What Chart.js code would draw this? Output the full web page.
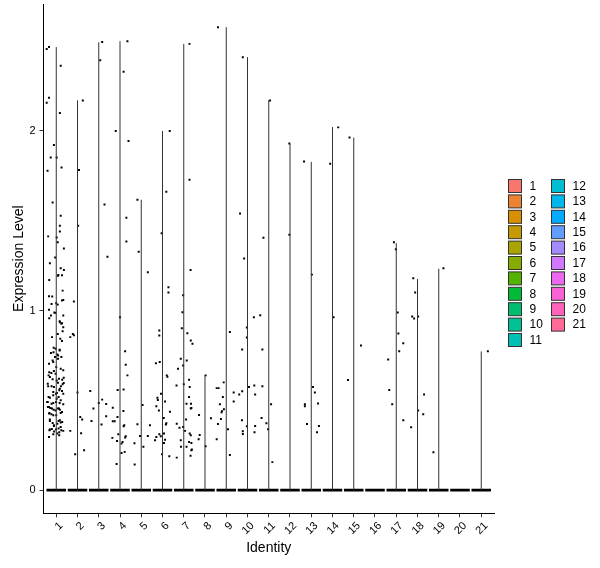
<!DOCTYPE html>
<html>
<head>
<meta charset="utf-8">
<script src="https://cdn.jsdelivr.net/npm/chart.js@4"></script>
<style>
  body { margin: 0; background: #fff; }
  #box { width: 600px; height: 568px; }
</style>
</head>
<body>
<div id="box"><canvas id="vln" width="600" height="568"></canvas></div>
<script>
// clusters on the x axis
const clusters = ['1','2','3','4','5','6','7','8','9','10','11','12','13','14','15','16','17','18','19','20','21'];
const yTicks = [0, 1, 2];
// top of each (very thin) violin, 0 = no violin above zero
const violinTop = [2.467, 2.17, 2.494, 2.5, 1.617, 2.0, 2.485, 0.639, 2.578, 2.411, 2.172, 1.928, 1.828, 2.022, 1.963, 0, 1.376, 1.176, 1.233, 0, 0.772];

// jittered cells above zero: [offset from cluster centre, expression]
const pts1 = [[-0.45,2.457],[-0.34,2.468],[0.21,2.363],[-0.34,2.185],[-0.45,2.157],[0.17,2.10],[-0.11,1.922],[-0.26,1.852],[0.02,1.852],[0.25,1.796],[-0.41,1.778],[-0.17,1.602],[0.21,1.528],[0.17,1.472],[-0.38,1.413],[0.17,1.44],[0.02,1.407],[0.07,1.38],[0.36,1.346],[-0.05,1.296],[-0.3,1.263],[0.21,1.235],[0.36,1.226],[0.1,1.198],[0.27,1.196],[-0.33,1.17],[0.3,1.111],[-0.19,1.078],
  [-0.34,1.08],[-0.22,1.037],[0.07,1.033],[0.27,1.056],[0.33,1.059],[-0.34,1.004],[-0.09,0.989],[-0.05,0.987],[0.33,0.972],[-0.33,0.957],[0.17,0.935],[0.24,0.926],[0.33,0.907],[0.3,0.885],[0.07,0.87],[0.19,0.843],[-0.25,0.763],[-0.03,0.787],[0.16,0.778],[-0.06,0.741],[0.09,0.75],[-0.34,0.704],[-0.14,0.713],[0.21,0.676],[0.33,0.667],[-0.36,0.639],[-0.3,0.63],[-0.11,0.663],[0.02,0.611],[0.28,0.615],[-0.4,0.593],[-0.22,0.578],[0.22,0.578],[0.3,0.589],[-0.14,0.546],[-0.01,0.537],[0.14,0.556],[0.33,0.537],[-0.3,0.515],[-0.4,0.491],[-0.34,0.463],[-0.14,0.485],[0.02,0.509],[0.21,0.5],[0.33,0.478],[-0.2,0.454],[-0.03,0.444],[0.13,0.454],[0.27,0.435],[-0.34,0.426],[-0.14,0.417],[0.17,0.389],[0.28,0.379],[-0.3,0.393],[-0.11,0.361],[0.05,0.37],[0.21,0.352],[-0.3,0.337],[-0.01,0.337],[0.14,0.322],[0.33,0.33],[-0.34,0.296],[-0.14,0.311],[0.14,0.306],
  [0.08,1.194],[0.0,1.041],[-0.25,0.972],[0.16,0.941],[0.27,0.93],[-0.2,0.852],[0.27,0.83],[-0.12,0.793],[0.16,0.782],[-0.13,0.768],[0.05,0.756],[-0.17,0.722],[0.08,0.731],[0.24,0.741],[0.0,0.685],[-0.33,0.657],[-0.23,0.652],[-0.03,0.648],[-0.17,0.618],[0.13,0.62],[0.35,0.626],[0.08,0.598],[0.35,0.596],[-0.38,0.578],[-0.11,0.574],[0.17,0.565],[0.03,0.541],[0.27,0.552],[-0.36,0.518],[-0.14,0.528],[0.11,0.518],[-0.43,0.491],[-0.22,0.481],[-0.01,0.491],[0.16,0.485],[-0.39,0.463],[-0.28,0.457],[-0.12,0.448],[0.08,0.454],[0.17,0.448],[-0.32,0.43],[-0.23,0.422],[0.0,0.417],[0.21,0.43],[-0.3,0.385],[-0.17,0.374],[0.11,0.385],[0.21,0.376],[-0.11,0.357],[-0.32,0.333],[-0.21,0.341],[-0.1,0.326],[0.11,0.343],[0.24,0.333],[-0.34,0.296],[0.05,0.315]];
const pts2 = [[0.25,2.17],[0.07,1.783],[0.03,1.472],[-0.17,1.05],[-0.34,0.852],[-0.22,0.87],[-0.17,0.863],[0,0.544],[0.13,0.407],[0.22,0.393],[0.17,0.317],[0.31,0.222],[-0.11,0.2],[-0.34,0.33]];
const pts3 = [[0.16,2.496],[0.07,2.394],[0.27,1.591],[0.41,1.3],[-0.4,0.552],[-0.34,0.385],[-0.25,0.454],[0,0.485],[0.16,0.504],[0.35,0.48],[0.35,0.411],[0.13,0.365]];
const pts4 = [[0.35,2.5],[0.17,2.33],[-0.2,2.0],[0.4,1.944],[0.3,1.517],[0.3,1.385],[0,0.963],[0.24,0.774],[0.27,0.698],[0.35,0.639],[0.17,0.561],[-0.11,0.557],[0.16,0.441],[0.2,0.361],[0.17,0.356],[-0.08,0.311],[-0.36,0.291],[-0.14,0.274],[0.07,0.259],[0.12,0.268],[0.27,0.3],[0.24,0.293],[0.07,0.207],[0.22,0.213],[-0.16,0.146],[-0.34,0.459],[-0.12,0.407],[-0.34,0.383],[-0.25,0.383]];
const pts5 = [[-0.18,1.617],[-0.12,1.328],[0.31,1.213],[-0.31,0.143],[-0.32,0.261],[-0.18,0.367],[0.06,0.474],[-0.06,0.302],[0.1,0.241],[0.31,0.302],[0.41,0.361]];
const pts6 = [[0.34,2.0],[0.18,1.661],[-0.04,1.43],[0.28,1.13],[0.28,1.1],[-0.31,0.707],[-0.13,0.713],[-0.15,0.889],[-0.15,0.861],[-0.24,0.515],[-0.22,0.502],[-0.29,0.467],[-0.17,0.444],[-0.07,0.537],[0.12,0.494],[0.2,0.639],[0.23,0.632],[0.35,0.437],[0.06,0.402],[0.18,0.372],[0.16,0.365],[-0.15,0.311],[-0.08,0.3],[-0.29,0.296],[0.07,0.315],[-0.35,0.278],[0.12,0.281],[0.07,0.263],[-0.02,0.2],[0.32,0.189]];
const pts7 = [[0.27,2.485],[0.27,1.728],[0.32,1.226],[-0.03,1.085],[-0.06,0.991],[-0.09,0.902],[0.17,0.874],[0.33,0.833],[0.41,0.815],[-0.14,0.731],[-0.27,0.676],[-0.03,0.694],[0.14,0.722],[-0.34,0.583],[0,0.589],[0.25,0.615],[0.28,0.574],[0.25,0.518],[0.13,0.481],[0.33,0.454],[-0.33,0.37],[-0.2,0.348],[-0.03,0.352],[0.11,0.393],[0.28,0.315],[0.33,0.306],[-0.14,0.278],[0.06,0.33],[0.13,0.241],[0.25,0.268],[0.38,0.226],[0.32,0.191],[-0.33,0.181],[-0.13,0.241],[0.34,0.481],[0.36,0.457],[0.36,0.263],[0.36,0.222]];
const pts8 = [[-0.28,0.418],[-0.25,0.307],[-0.3,0.283],[0.03,0.639],[0.03,0.244],[0.28,0.40]];
const pts9 = [[-0.39,2.578],[-0.45,0.568],[-0.36,0.568],[-0.16,0.518],[-0.3,0.478],[-0.2,0.44],[-0.22,0.433],[-0.11,0.45],[-0.39,0.368],[-0.25,0.396],[-0.45,0.283],[-0.12,0.6],[0.08,0.339],[0.17,0.88],[0.17,0.196],[0.35,0.544],[0.35,0.494]];
const pts10 = [[-0.22,2.41],[-0.35,1.54],[-0.39,0.533],[-0.26,0.389],[-0.25,0.55],[-0.22,0.328],[-0.22,0.313],[-0.25,0.783],[-0.16,1.29],[-0.03,0.906],[-0.03,0.85],[-0.03,0.356],[0.07,0.574],[0.3,0.963],[0.32,0.583],[0.36,0.533],[0.33,0.322],[0.36,0.357]];
const pts11 = [[0.06,2.17],[-0.25,1.406],[-0.4,0.974],[-0.3,0.783],[-0.3,0.578],[-0.34,0.402],[-0.11,0.372],[-0.03,0.339],[0.11,0.478],[0.17,0.156]];
const pts12 = [[-0.03,1.93],[-0.03,1.422]];
const pts13 = [[-0.34,1.83],[-0.3,0.478],[-0.3,0.467],[-0.2,0.368],[0.03,1.2],[0.08,0.574],[0.17,0.544],[0.32,0.483],[0.36,0.357],[0.27,0.322]];
const pts14 = [[-0.11,1.817],[0.27,2.02],[0.05,0.963]];
const pts15 = [[-0.2,1.963],[0.34,0.806],[-0.27,0.613]];
const pts16 = [];
const pts17 = [[-0.11,1.38],[-0.02,1.341],[0.07,0.989],[0.1,0.872],[0.33,0.818],[0.14,0.774],[-0.38,0.728],[-0.33,0.557],[-0.19,0.478],[0.33,0.389]];
const pts18 = [[-0.2,1.18],[-0.11,1.1],[-0.25,0.967],[-0.16,0.956],[0.03,0.967],[0.31,0.533],[0.03,0.444],[0.27,0.422],[-0.3,0.35]];
const pts19 = [[0.22,1.235],[-0.25,0.211]];
const pts20 = [];
const pts21 = [[0.31,0.774]];
const cellPoints = [pts1, pts2, pts3, pts4, pts5, pts6, pts7, pts8, pts9, pts10, pts11, pts12, pts13, pts14, pts15, pts16, pts17, pts18, pts19, pts20, pts21];

// ggplot default hue palette (hcl, c=100, l=65)
function hcl(h, c, l) {
  const hr = h * Math.PI / 180;
  const U = c * Math.cos(hr), V = c * Math.sin(hr);
  const Y = l > 8 ? Math.pow((l + 16) / 116, 3) : l / 903.3;
  const u = U / (13 * l) + 0.19784, v = V / (13 * l) + 0.46834;
  const X = Y * 9 * u / (4 * v);
  const Z = Y * (12 - 3 * u - 20 * v) / (4 * v);
  const lin = [3.240479 * X - 1.53715 * Y - 0.498535 * Z,
               -0.969256 * X + 1.875992 * Y + 0.041556 * Z,
               0.055648 * X - 0.204043 * Y + 1.057311 * Z];
  return '#' + lin.map(t => {
    t = t <= 0.0031308 ? 12.92 * t : 1.055 * Math.pow(t, 1 / 2.4) - 0.055;
    return Math.round(Math.min(1, Math.max(0, t)) * 255).toString(16).padStart(2, '0');
  }).join('');
}
const colors = clusters.map((c, i) => hcl(15 + i * 360 / clusters.length, 100, 65));

const FONT = "'Liberation Sans', Arial, sans-serif";

let datasets = [];
clusters.forEach((c, i) => {
  const x = i + 1;
  if (violinTop[i] > 0) {
    datasets.push({ type: 'line', data: [{x: x, y: 0}, {x: x, y: violinTop[i]}],
      borderColor: '#333', borderWidth: 1, pointRadius: 0 });
  }
  datasets.push({ type: 'line', data: [{x: x - 0.46, y: 0}, {x: x + 0.46, y: 0}],
    borderColor: '#000', borderWidth: 2.6, pointRadius: 0 });
});
let cells = [];
cellPoints.forEach((pts, i) => {
  pts.forEach(p => cells.push({x: i + 1 + p[0], y: p[1]}));
});
datasets.push({ type: 'scatter', data: cells, pointStyle: 'rect', pointRadius: 1.4,
  backgroundColor: '#000', borderWidth: 0 });

// legend drawn by hand: two columns like ggplot
const legendPlugin = {
  id: 'vlnLegend',
  afterDraw(chart) {
    const ctx = chart.ctx;
    ctx.save();
    ctx.font = '12px ' + FONT;
    ctx.textBaseline = 'middle';
    clusters.forEach((c, i) => {
      const col = i < 11 ? 0 : 1;
      const row = col ? i - 11 : i;
      const bx = col ? 551.5 : 508.5;
      const by = 179.5 + row * 15.4;
      ctx.fillStyle = colors[i];
      ctx.fillRect(bx, by, 13, 13);
      ctx.strokeStyle = '#333';
      ctx.lineWidth = 1;
      ctx.strokeRect(bx, by, 13, 13);
      ctx.fillStyle = '#000';
      ctx.fillText(c, bx + 21, by + 7);
    });
    ctx.restore();
  }
};

const chart = new Chart(document.getElementById('vln'), {
  type: 'scatter',
  data: { datasets: datasets },
  plugins: [legendPlugin],
  options: {
    responsive: false,
    animation: false,
    layout: { padding: { top: 3, right: 106, left: 0, bottom: 0 } },
    plugins: { legend: { display: false }, tooltip: { enabled: false } },
    scales: {
      x: {
        type: 'linear', min: 0.4, max: 21.6,
        afterBuildTicks: s => { s.ticks = clusters.map((c, i) => ({ value: i + 1 })); },
        afterFit: s => { s.height = 54.7; s.paddingLeft = 0; s.paddingRight = 0; },
        ticks: {
          callback: v => clusters[v - 1], autoSkip: false,
          minRotation: 45, maxRotation: 45, labelOffset: 5, padding: 2,
          color: '#000', font: { family: FONT, size: 11 }
        },
        grid: { drawOnChartArea: false, drawTicks: true, tickLength: 4, color: '#333' },
        border: { display: true, color: '#000', width: 1 },
        title: { display: true, text: 'Identity', color: '#000',
          font: { family: FONT, size: 14 }, padding: { top: 0, bottom: 11 } }
      },
      y: {
        min: -0.129, max: 2.707,
        afterBuildTicks: s => { s.ticks = yTicks.map(v => ({ value: v })); },
        afterFit: s => { s.width = 43.5; s.paddingTop = 0; s.paddingBottom = 0; },
        ticks: { color: '#000', font: { family: FONT, size: 11 }, padding: 4 },
        grid: { drawOnChartArea: false, drawTicks: true, tickLength: 4, color: '#333' },
        border: { display: true, color: '#000', width: 1 },
        title: { display: true, text: 'Expression Level', color: '#000',
          font: { family: FONT, size: 14 }, padding: { top: 11, bottom: 0 } }
      }
    }
  }
});
</script>
</body>
</html>
